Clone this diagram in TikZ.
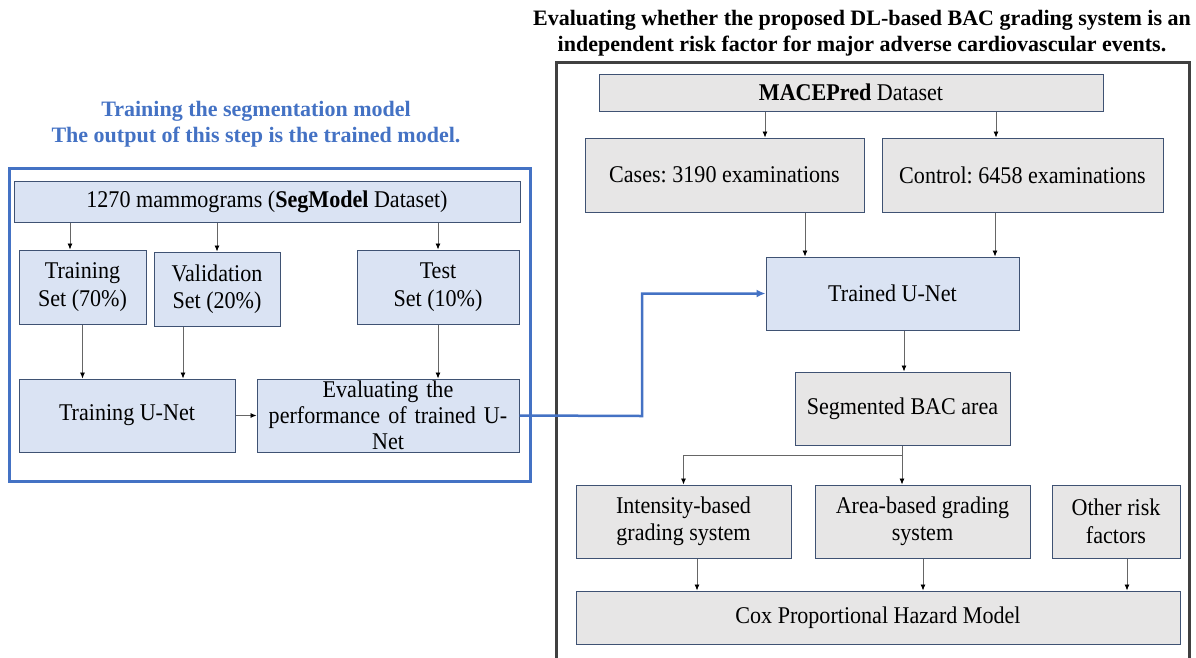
\documentclass[tikz,border=0pt]{standalone}
\usepackage{fontspec}
\setmainfont{Liberation Serif}
\newfontfamily\boxfont[FakeStretch=0.92]{Liberation Serif}
\usetikzlibrary{arrows.meta}
\definecolor{bfill}{HTML}{DAE3F3}
\definecolor{gfill}{HTML}{E7E6E6}
\definecolor{bdr}{HTML}{3F5273}
\definecolor{tblue}{HTML}{4472C4}
\definecolor{frm}{HTML}{404040}
\frenchspacing
\begin{document}
\begin{tikzpicture}[x=1pt,y=-1pt,
  box/.style={draw=bdr,line width=1pt,inner sep=1pt,align=center,
    font=\boxfont\fontsize{24}{27.5}\selectfont},
  bluebox/.style={box,fill=bfill},
  graybox/.style={box,fill=gfill},
  conn/.style={draw=gray!80!black,line width=0.8pt,-{Latex[length=6pt,width=5pt,color=black]}},
  ttl/.style={font=\bfseries\fontsize{22}{26}\selectfont,align=center}]
\useasboundingbox (0,0) rectangle (1196,657);
% titles
\node[ttl,text=tblue] (ltitle) at (256,124) {Training the segmentation model\\The output of this step is the trained model.};
\node[ttl] (rtitle) at (862,33) {Evaluating whether the proposed DL-based BAC grading system is an\\independent risk factor for major adverse cardiovascular events.};
% frames
\draw[tblue,line width=3pt] (9,168) rectangle (530,481);
\draw[frm,line width=3pt] (556,670) -- (556,62) -- (1189,62) -- (1189,670);
% left nodes
\node[bluebox,minimum width=506pt,minimum height=41pt] (top) at (267,201.5) {1270 mammograms (\textbf{SegModel} Dataset)};
\node[bluebox,minimum width=127pt,minimum height=74pt] (train) at (82.5,287) {Training\\Set (70\%)};
\node[bluebox,minimum width=126pt,minimum height=74pt] (valid) at (217,289) {Validation\\Set (20\%)};
\node[bluebox,minimum width=162pt,minimum height=74pt] (test) at (438,287) {Test\\Set (10\%)};
\node[bluebox,minimum width=216pt,minimum height=73pt] (tunet) at (127,415.5) {Training U-Net};
\node[bluebox,minimum width=262pt,minimum height=73pt,text width=258pt] (eval) at (388,415.5) {Evaluating the\\[-1.5pt]performance of trained U-\\[-1.5pt]Net};
% left connectors
\draw[conn] (top.south -| 70,0) -- (train.north -| 70,0);
\draw[conn] (top.south -| valid.north) -- (valid.north);
\draw[conn] (top.south -| test.north) -- (test.north);
\draw[conn] (train.south) -- (tunet.north -| train.south);
\draw[conn] (valid.south -| 183,0) -- (tunet.north -| 183,0);
\draw[conn] (test.south) -- (eval.north -| test.south);
\draw[conn] (tunet.east) -- (eval.west);
% right nodes
\node[graybox,minimum width=504pt,minimum height=37pt] (mace) at (851,92.5) {\textbf{MACEPred} Dataset};
\node[graybox,minimum width=279pt,minimum height=74pt] (cases) at (724.5,175) {Cases: 3190 examinations};
\node[graybox,minimum width=281pt,minimum height=74pt] (control) at (1022.5,175) {Control: 6458 examinations};
\node[bluebox,minimum width=253pt,minimum height=73pt] (trained) at (892.5,293.5) {Trained U-Net};
\node[graybox,minimum width=215pt,minimum height=73pt] (seg) at (902.5,408.5) {Segmented BAC area};
\node[graybox,minimum width=215pt,minimum height=73pt] (inten) at (683.5,521.5) {Intensity-based\\grading system};
\node[graybox,minimum width=215pt,minimum height=73pt] (area) at (922.5,521.5) {Area-based grading\\system};
\node[graybox,minimum width=128pt,minimum height=73pt] (other) at (1116,521.5) {Other risk\\factors};
\node[graybox,minimum width=604pt,minimum height=53pt] (cox) at (878,617.5) {Cox Proportional Hazard Model};
% right connectors
\draw[conn] (mace.south -| 765,0) -- (cases.north -| 765,0);
\draw[conn] (mace.south -| 996,0) -- (control.north -| 996,0);
\draw[conn] (cases.south -| 805,0) -- (trained.north -| 805,0);
\draw[conn] (control.south -| 995,0) -- (trained.north -| 995,0);
\draw[conn] (trained.south -| 904,0) -- (seg.north -| 904,0);
\coordinate (br) at (902,455);
\draw[conn] (seg.south -| br) -- (br) -- (br -| inten.north) -- (inten.north);
\draw[conn] (br) -- (area.north -| br);
\draw[conn] (inten.south -| 697,0) -- (cox.north -| 697,0);
\draw[conn] (area.south -| 923,0) -- (cox.north -| 923,0);
\draw[conn] (other.south -| 1127,0) -- (cox.north -| 1127,0);
% blue link
\coordinate (bend) at (642,416);
\draw[tblue,line width=2.5pt,-{Latex[length=9pt,width=8pt]}] (eval.east) -- (bend) -- (bend |- trained.west) -- (trained.west);
\end{tikzpicture}
\end{document}
